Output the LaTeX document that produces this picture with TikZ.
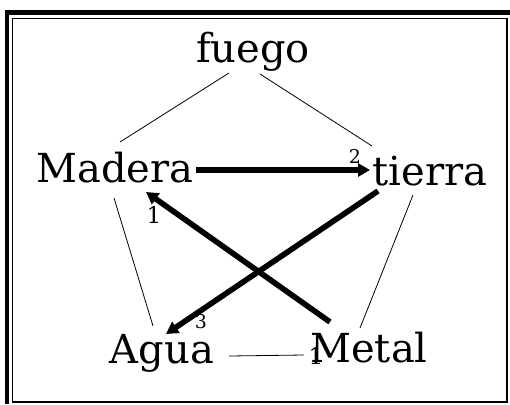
\documentclass[tikz,border=0pt]{standalone}
\usepackage{fontspec}
\setmainfont{DejaVu Serif}
\usepackage{tikz}
\usetikzlibrary{arrows.meta,positioning,calc}

\begin{document}
\begin{tikzpicture}[x=1pt,y=-1pt,
  elem/.style={inner sep=0pt,anchor=base,font=\fontsize{40}{40}\selectfont},
  num/.style={inner sep=0pt,font=\fontsize{19}{19}\selectfont},
  thin/.style={line width=0.8pt},
  thick/.style={line width=5.6pt,-{Triangle[length=12pt,width=13pt]}}]
\useasboundingbox (0,0) rectangle (510,404);
% frame
\fill (5,10) rectangle (510,15);
\fill (5,10) rectangle (9,404);
\draw[line width=1.2pt] (12.5,18.5) rectangle (507,402);
% elements
\node[elem] (fuego) at (253,62) {fuego};
\node[elem] (madera) at (115,182) {Madera};
\node[elem] (tierra) at (430,185) {tierra};
\node[elem] (agua) at (162,363) {Agua};
\node[elem] (metal) at (369,362) {Metal};
% thin sides of the pentagon
\draw[thin] ([xshift=-24pt,yshift=-11pt]fuego.base) -- ([xshift=5pt,yshift=40pt]madera.base);
\draw[thin] ([xshift=7pt,yshift=-12pt]fuego.base) -- ([xshift=-58pt,yshift=39pt]tierra.base);
\draw[thin] ([xshift=-1pt,yshift=-16pt]madera.base) -- ([xshift=-9pt,yshift=37pt]agua.base);
\draw[thin] ([xshift=-17pt,yshift=-10pt]tierra.base) -- ([xshift=-9pt,yshift=34pt]metal.base);
\draw[thin] ([xshift=67pt,yshift=7pt]agua.base) -- ([xshift=-65pt,yshift=7pt]metal.base);
% thick arrows
\draw[thick] ([xshift=81pt,yshift=12pt]madera.base) -- ([xshift=-60pt,yshift=15pt]tierra.base);
\draw[thick] ([xshift=-52pt,yshift=-6pt]tierra.base) -- ([xshift=4pt,yshift=29pt]agua.base);
\draw[thick] ([xshift=-39pt,yshift=40pt]metal.base) -- ([xshift=31pt,yshift=-10pt]madera.base);
% numbers
\node[num] (n2) at (355,156) {2};
\node[num,font=\fontsize{23}{23}\selectfont] (n1) at (154,215) {1};
\node[num] (n3) at (201,322) {3};
\node[num,font=\fontsize{23}{23}\selectfont] (n1b) at (316,356) {1};
\end{tikzpicture}
\end{document}
